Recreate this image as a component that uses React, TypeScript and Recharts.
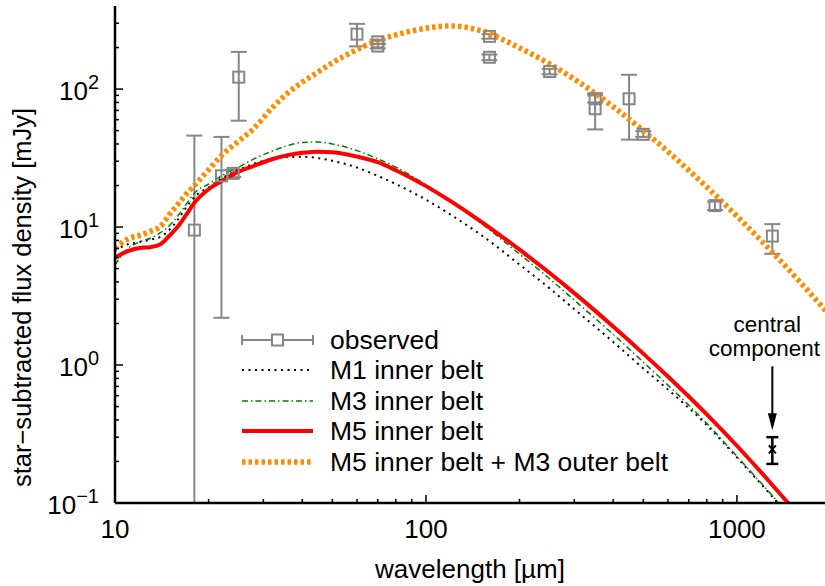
import React from 'react';
import { ComposedChart, Line, Scatter, XAxis, YAxis, ErrorBar, Legend } from 'recharts';

const FONT = '"Liberation Sans", Arial, Helvetica, sans-serif';

// wavelength grid of the models [µm]
const modelLam = [10, 11, 12, 13, 14, 15, 16, 17, 18, 20, 22, 25, 28, 32, 36, 40, 45, 50, 60, 70, 80, 100, 120, 150, 200, 250, 300, 400, 500, 600, 800, 1000, 1300, 1600, 2000];
// model fluxes [mJy]
const m1Flux = [6.8, 7.5, 7.8, 8.1, 8.5, 9.6, 11.5, 14.0, 16.5, 19.4, 22.5, 26.0, 28.8, 31.2, 32.2, 32.3, 31.6, 30.2, 27.0, 23.5, 20.5, 15.8, 12.3, 8.8, 5.35, 3.59, 2.54, 1.47, 0.945, 0.665, 0.367, 0.214, 0.111, 0.0647, 0.0353];
const m3Flux = [5.3, 7.0, 7.8, 8.3, 9.1, 10.3, 12.2, 14.8, 17.6, 20.5, 23.5, 27.2, 31.2, 35.5, 39.0, 41.0, 41.3, 40.0, 35.8, 31.2, 27.2, 20.2, 15.4, 10.7, 6.37, 4.22, 2.95, 1.67, 1.05, 0.715, 0.378, 0.218, 0.113, 0.066, 0.036];
const m5Flux = [6.0, 6.7, 7.05, 7.15, 7.5, 8.7, 10.2, 12.4, 15.0, 18.8, 21.5, 25.2, 27.8, 31.0, 33.2, 34.5, 35.2, 34.8, 32.4, 29.5, 25.8, 19.8, 15.4, 11.0, 6.85, 4.64, 3.32, 1.9, 1.21, 0.826, 0.439, 0.26, 0.135, 0.0787, 0.043];
const m5m3Flux = [7.0, 8.2, 8.7, 9.3, 10.1, 12.4, 14.8, 17.5, 20.0, 26.0, 33.0, 42.0, 52.0, 73.0, 94.0, 112.0, 133.0, 155.0, 193.0, 225.0, 247.0, 276.0, 287.0, 265.0, 198.7, 152.0, 118.0, 74.5, 49.9, 35.2, 19.5, 12.0, 6.57, 3.97, 2.26];

// observed photometry
const obsLam = [18, 22, 24, 25, 60, 70, 70, 160, 160, 250, 350, 350, 450, 500, 850, 1300];
const obsFlux = [9.5, 23.5, 24.5, 122, 250, 220, 205, 241, 170, 134, 85, 72, 85, 47, 14.3, 8.6];
const obsLow = [0.1, 2.2, 23, 59, 204, 212, 197, 232, 162, 128, 80, 51, 43, 45, 13.3, 6.4];
const obsHigh = [46, 45, 26, 186, 297, 228, 213, 250, 178, 140, 90, 93, 127, 49.5, 15.3, 10.5];

// central component
const centralLam = [1300];
const centralFlux = [0.245];
const centralLow = [0.192];
const centralHigh = [0.3];

const seriesNames = ['observed', 'M1 inner belt', 'M3 inner belt', 'M5 inner belt', 'M5 inner belt + M3 outer belt'];

const xMajorTicks = [10, 100, 1000];
const xMinorTicks = [20, 30, 40, 50, 60, 70, 80, 90, 200, 300, 400, 500, 600, 700, 800, 900];
const yMajorTicks = [0.1, 1, 10, 100];
const yMajorExp = ['\u22121', '0', '1', '2'];
const yMinorTicks = [0.2, 0.3, 0.4, 0.5, 0.6, 0.7, 0.8, 0.9, 2, 3, 4, 5, 6, 7, 8, 9, 20, 30, 40, 50, 60, 70, 80, 90, 200, 300];

const xTicks = [...xMajorTicks, ...xMinorTicks].sort((a, b) => a - b);
const yTicks = [...yMajorTicks, ...yMinorTicks].sort((a, b) => a - b);

const toSeries = (fluxes: number[]) => modelLam.map((lam, i) => ({ lam, f: fluxes[i] }));
const m1Data = toSeries(m1Flux);
const m3Data = toSeries(m3Flux);
const m5Data = toSeries(m5Flux);
const m5m3Data = toSeries(m5m3Flux);

const obsData = obsLam.map((lam, i) => ({
  lam,
  f: obsFlux[i],
  err: [obsFlux[i] - obsLow[i], obsHigh[i] - obsFlux[i]],
}));
const centralData = centralLam.map((lam, i) => ({
  lam,
  f: centralFlux[i],
  err: [centralFlux[i] - centralLow[i], centralHigh[i] - centralFlux[i]],
}));

const GRAY = '#868686';

function XTick(props: any) {
  const { x, y, payload, side } = props;
  const v = payload.value;
  const major = xMajorTicks.includes(v);
  const len = major ? 8 : 4;
  const dir = side === 'top' ? 1 : -1;
  return (
    <g>
      <line x1={x} x2={x} y1={y} y2={y + dir * len} stroke="#000" strokeWidth={1.5} />
      {side !== 'top' && major && (
        <text x={x} y={y + 35} textAnchor="middle" fontSize={26} fill="#000" fontFamily={FONT}>
          {v}
        </text>
      )}
    </g>
  );
}

function YTick(props: any) {
  const { x, y, payload, side } = props;
  const v = payload.value;
  const idx = yMajorTicks.indexOf(v);
  const major = idx >= 0;
  const len = major ? 8 : 4;
  const dir = side === 'right' ? -1 : 1;
  return (
    <g>
      <line x1={x} x2={x + dir * len} y1={y} y2={y} stroke="#000" strokeWidth={1.5} />
      {side !== 'right' && major && (
        <text x={x - 16} y={y + 10.5} textAnchor="end" fontSize={26} fill="#000" fontFamily={FONT}>
          10
          <tspan dy={-11} fontSize={20}>
            {yMajorExp[idx]}
          </tspan>
        </text>
      )}
    </g>
  );
}

function ObsSquare(props: any) {
  const { cx, cy } = props;
  return <rect x={cx - 5.5} y={cy - 5.5} width={11} height={11} fill="none" stroke={GRAY} strokeWidth={2} />;
}

function CentralMark(props: any) {
  const { cx, cy } = props;
  return (
    <g>
      <path d={`M${cx - 3.5},${cy - 4} L${cx + 3.5},${cy + 4} M${cx + 3.5},${cy - 4} L${cx - 3.5},${cy + 4}`} stroke="#000" strokeWidth={2} />
      <line x1={cx} x2={cx} y1={cy - 83} y2={cy - 32} stroke="#000" strokeWidth={2} />
      <polygon points={`${cx - 4.5},${cy - 36} ${cx + 4.5},${cy - 36} ${cx},${cy - 19}`} fill="#000" />
      <text x={cx - 5} y={cy - 117} textAnchor="middle" fontSize={22.5} fill="#000" fontFamily={FONT}>
        central
      </text>
      <text x={cx - 8} y={cy - 93} textAnchor="middle" fontSize={22.5} fill="#000" fontFamily={FONT}>
        component
      </text>
    </g>
  );
}

function LegendBox() {
  const rowY = [20, 50, 81, 111, 142];
  const x1 = 12;
  const x2 = 83;
  const samples = [
    <g key="s0">
      <line x1={x1} x2={x2} y1={rowY[0]} y2={rowY[0]} stroke={GRAY} strokeWidth={2} />
      <line x1={x1} x2={x1} y1={rowY[0] - 5} y2={rowY[0] + 5} stroke={GRAY} strokeWidth={2} />
      <line x1={x2} x2={x2} y1={rowY[0] - 5} y2={rowY[0] + 5} stroke={GRAY} strokeWidth={2} />
      <rect x={(x1 + x2) / 2 - 5.5} y={rowY[0] - 5.5} width={11} height={11} fill="#fff" stroke={GRAY} strokeWidth={2} />
    </g>,
    <line key="s1" x1={x1} x2={x2} y1={rowY[1]} y2={rowY[1]} stroke="#000" strokeWidth={2} strokeDasharray="2 4.5" />,
    <line key="s2" x1={x1} x2={x2} y1={rowY[2]} y2={rowY[2]} stroke="#008000" strokeWidth={1.5} strokeDasharray="6 3 1.5 3" />,
    <line key="s3" x1={x1} x2={x2} y1={rowY[3]} y2={rowY[3]} stroke="#ff0000" strokeWidth={4} />,
    <line key="s4" x1={x1} x2={x2 - 2} y1={rowY[4]} y2={rowY[4]} stroke="#ff8c00" strokeWidth={5.5} strokeDasharray="3.5 3" />,
  ];
  return (
    <svg width={460} height={160} style={{ display: 'block', overflow: 'visible' }}>
      {samples}
      {seriesNames.map((name, i) => (
        <text key={name} x={100} y={rowY[i] + 8.5} fontSize={26.5} fill="#000" fontFamily={FONT}>
          {name}
        </text>
      ))}
    </svg>
  );
}

export default function App() {
  return (
    <div
      style={{
        position: 'absolute',
        left: 0,
        top: 0,
        width: 825,
        height: 586,
        background: '#fff',
        overflow: 'hidden',
        fontFamily: FONT,
      }}
    >
      <ComposedChart width={825} height={586} margin={{ top: 6, right: 0, bottom: 0, left: 0 }}>
        <XAxis
          xAxisId={0}
          dataKey="lam"
          type="number"
          scale="log"
          domain={[10, 1920]}
          allowDataOverflow
          ticks={xTicks}
          interval={0}
          height={83}
          tickSize={0}
          tickMargin={0}
          axisLine={{ stroke: '#000', strokeWidth: 2.5 }}
          tick={(p: any) => <XTick {...p} side="bottom" />}
          label={{ value: 'wavelength [\u00b5m]', position: 'center', dy: 24, style: { fontSize: 26, fill: '#000', fontFamily: FONT } }}
        />
        <XAxis
          xAxisId="top"
          orientation="top"
          dataKey="lam"
          type="number"
          scale="log"
          domain={[10, 1920]}
          allowDataOverflow
          ticks={xTicks}
          interval={0}
          height={0}
          tickSize={0}
          tickMargin={0}
          axisLine={{ stroke: '#000', strokeWidth: 2.5 }}
          tick={(p: any) => <XTick {...p} side="top" />}
        />
        <YAxis
          yAxisId={0}
          dataKey="f"
          type="number"
          scale="log"
          domain={[0.1, 400]}
          allowDataOverflow
          ticks={yTicks}
          interval={0}
          width={115}
          tickSize={0}
          tickMargin={0}
          axisLine={{ stroke: '#000', strokeWidth: 2.5 }}
          tick={(p: any) => <YTick {...p} side="left" />}
          label={{
            value: 'star\u2212subtracted flux density [mJy]',
            angle: -90,
            position: 'center',
            dx: -35.5,
            dy: 43,
            style: { fontSize: 25.5, fill: '#000', fontFamily: FONT },
          }}
        />
        <YAxis
          yAxisId="right"
          orientation="right"
          type="number"
          scale="log"
          domain={[0.1, 400]}
          allowDataOverflow
          ticks={yTicks}
          interval={0}
          width={0}
          tickSize={0}
          tickMargin={0}
          axisLine={{ stroke: '#000', strokeWidth: 2.5 }}
          tick={(p: any) => <YTick {...p} side="right" />}
        />
        <Legend
          layout="horizontal"
          verticalAlign="middle"
          align="center"
          width={460}
          height={160}
          wrapperStyle={{ left: 230, top: 320, width: 460, height: 160 }}
          content={() => <LegendBox />}
        />
        <Scatter
          name={seriesNames[0]}
          data={obsData}
          dataKey="f"
          fill={GRAY}
          shape={(p: any) => <ObsSquare {...p} />}
          isAnimationActive={false}
        >
          <ErrorBar dataKey="err" direction="y" width={8} stroke={GRAY} strokeWidth={2} />
        </Scatter>
        <Line
          name={seriesNames[1]}
          data={m1Data}
          dataKey="f"
          type="monotone"
          stroke="#000"
          strokeWidth={2}
          strokeDasharray="2 4.5"
          dot={false}
          activeDot={false}
          isAnimationActive={false}
        />
        <Line
          name={seriesNames[2]}
          data={m3Data}
          dataKey="f"
          type="monotone"
          stroke="#008000"
          strokeWidth={1.5}
          strokeDasharray="6 3 1.5 3"
          dot={false}
          activeDot={false}
          isAnimationActive={false}
        />
        <Line
          name={seriesNames[3]}
          data={m5Data}
          dataKey="f"
          type="monotone"
          stroke="#ff0000"
          strokeWidth={4}
          dot={false}
          activeDot={false}
          isAnimationActive={false}
        />
        <Line
          name={seriesNames[4]}
          data={m5m3Data}
          dataKey="f"
          type="monotone"
          stroke="#ff8c00"
          strokeWidth={5.5}
          strokeDasharray="3.5 3"
          dot={false}
          activeDot={false}
          isAnimationActive={false}
        />
        <Scatter
          name="central component"
          data={centralData}
          dataKey="f"
          fill="#000"
          shape={(p: any) => <CentralMark {...p} />}
          isAnimationActive={false}
        >
          <ErrorBar dataKey="err" direction="y" width={6} stroke="#000" strokeWidth={2.5} />
        </Scatter>
      </ComposedChart>
    </div>
  );
}
